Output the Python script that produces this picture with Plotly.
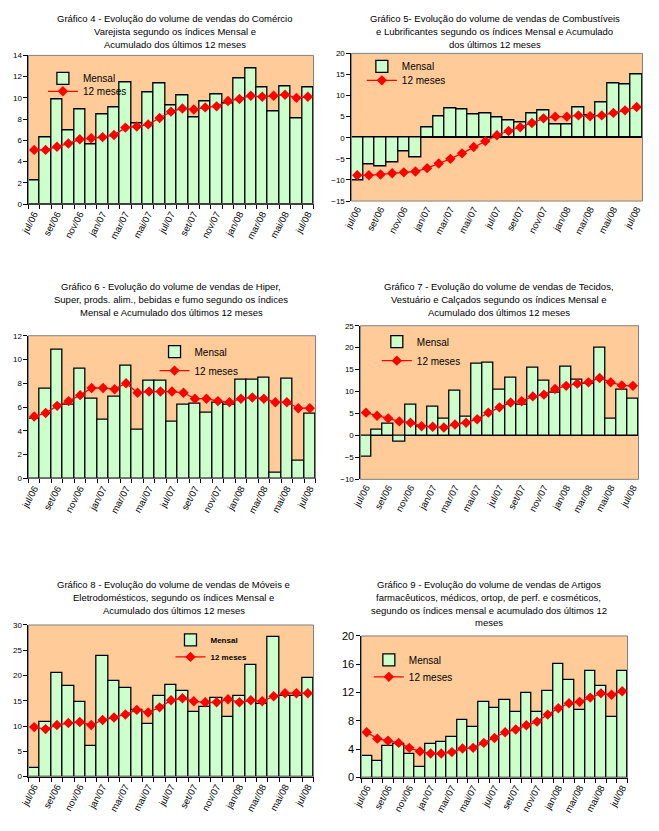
import plotly.graph_objects as go

FW, FH = 659, 831
# the photographed page maps figure pixel f to about 13.5 + 0.988 * f,
# so target page positions are converted back to figure pixels
PAGE_OFF, PAGE_SCALE = 13.5, 0.988

meses = ["jul/06", "ago/06", "set/06", "out/06", "nov/06", "dez/06",
         "jan/07", "fev/07", "mar/07", "abr/07", "mai/07", "jun/07",
         "jul/07", "ago/07", "set/07", "out/07", "nov/07", "dez/07",
         "jan/08", "fev/08", "mar/08", "abr/08", "mai/08", "jun/08", "jul/08"]
rotulos = [m if i % 2 == 0 else "" for i, m in enumerate(meses)]

# Gráfico 4 - Comércio Varejista
mensal_4 = [2.2, 6.3, 9.9, 6.9, 8.9, 5.6, 8.4, 9.1, 11.5, 7.6, 10.5, 11.4, 9.3,
            10.2, 8.2, 9.7, 10.3, 9.5, 11.8, 12.8, 11.0, 8.7, 11.1, 8.1, 11.0]
acum_4 = [5.1, 5.1, 5.4, 5.7, 6.1, 6.2, 6.3, 6.5, 7.2, 7.3, 7.5, 8.1, 8.7,
          9.0, 8.9, 9.1, 9.2, 9.7, 9.9, 10.2, 10.1, 10.2, 10.3, 10.0, 10.1]

# Gráfico 5 - Combustíveis e Lubrificantes
mensal_5 = [-10.0, -6.2, -6.7, -5.8, -3.2, -4.6, 2.5, 5.1, 7.0, 6.8, 5.6, 5.8, 4.9,
            4.2, 3.7, 5.8, 6.5, 3.2, 3.2, 7.2, 5.4, 8.4, 12.9, 12.7, 15.0]
acum_5 = [-8.9, -8.9, -8.7, -8.4, -8.2, -8.0, -7.2, -6.1, -5.0, -3.7, -2.2, -0.8, 0.6,
          1.6, 2.5, 3.5, 4.6, 5.0, 5.0, 5.3, 5.1, 5.3, 5.9, 6.5, 7.3]

# Gráfico 6 - Hiper, Super, prods. alim., bebidas e fumo
mensal_6 = [5.0, 7.5, 10.8, 6.2, 9.2, 6.7, 4.9, 6.9, 9.5, 4.1, 8.2, 8.2, 4.8,
            6.2, 6.3, 5.5, 6.4, 6.2, 8.3, 8.3, 8.5, 0.5, 8.4, 1.5, 5.4]
acum_6 = [5.2, 5.5, 6.1, 6.5, 7.0, 7.6, 7.6, 7.5, 8.0, 7.2, 7.3, 7.3, 7.3,
          7.2, 6.7, 6.7, 6.5, 6.4, 6.7, 6.8, 6.7, 6.4, 6.4, 5.9, 5.9]

# Gráfico 7 - Tecidos, Vestuário e Calçados
mensal_7 = [-4.9, 1.4, 2.7, -1.4, 7.0, 2.0, 6.6, 3.7, 10.2, 4.3, 16.3, 16.5, 10.4,
            13.1, 7.0, 15.4, 12.4, 9.7, 15.6, 12.7, 11.9, 19.9, 3.9, 10.4, 8.3]
acum_7 = [5.2, 4.5, 3.9, 3.2, 2.9, 2.1, 2.0, 1.8, 2.5, 2.9, 3.7, 5.2, 6.4,
          7.5, 7.8, 8.9, 9.3, 10.6, 11.3, 11.8, 12.1, 13.1, 12.1, 11.4, 11.3]

# Gráfico 8 - Móveis e Eletrodomésticos
mensal_8 = [1.7, 10.8, 20.6, 18.0, 14.7, 6.0, 23.9, 19.0, 17.6, 13.1, 10.4, 16.0, 18.2,
            17.0, 12.7, 13.7, 15.5, 11.7, 15.9, 22.1, 14.3, 27.6, 16.0, 16.0, 19.6]
acum_8 = [9.8, 9.4, 10.2, 10.6, 10.8, 10.2, 11.2, 11.7, 12.3, 13.2, 12.7, 13.7, 15.1,
          15.5, 14.9, 14.7, 14.7, 15.3, 14.7, 15.1, 14.9, 15.9, 16.5, 16.5, 16.5]

# Gráfico 9 - Artigos farmacêuticos, médicos, ortop., de perf. e cosméticos
mensal_9 = [3.1, 2.4, 4.5, 4.7, 3.4, 1.5, 4.8, 5.1, 5.7, 8.1, 7.1, 10.7, 9.8,
            11.0, 9.3, 12.0, 9.3, 12.2, 16.1, 13.8, 9.6, 15.1, 13.0, 8.6, 15.0]
acum_9 = [6.4, 5.5, 5.2, 4.9, 4.2, 3.7, 3.4, 3.4, 3.6, 4.1, 4.2, 4.9, 5.6,
          6.4, 6.8, 7.4, 7.9, 8.9, 9.8, 10.5, 10.7, 11.3, 11.9, 11.7, 12.2]

titulos = [
    ["Gráfico 4 - Evolução do volume de vendas do Comércio",
     "Varejista segundo os índices Mensal e",
     "Acumulado dos últimos 12 meses"],
    ["Gráfico 5- Evolução do volume de vendas de Combustíveis",
     "e Lubrificantes segundo os índices Mensal e Acumulado",
     "dos últimos 12 meses"],
    ["Gráfico 6 - Evolução do volume de vendas de Hiper,",
     "Super, prods. alim., bebidas e fumo segundo os índices",
     "Mensal e Acumulado dos últimos 12 meses"],
    ["Gráfico 7 - Evolução do volume de vendas de Tecidos,",
     "Vestuário e Calçados segundo os índices Mensal e",
     "Acumulado dos últimos 12 meses"],
    ["Gráfico 8 - Evolução do volume de vendas de Móveis e",
     "Eletrodomésticos, segundo os índices Mensal e",
     "Acumulado dos últimos 12 meses"],
    ["Gráfico 9 - Evolução do volume de vendas de Artigos",
     "farmacêuticos, médicos, ortop, de perf. e cosméticos,",
     "segundo os índices mensal e acumulado dos últimos 12",
     "meses"],
]

# geometry in page pixels: plot box (x0, x1, y0, y1), title centre x and first-line y,
# legend text x and the two legend row centres
paineis = [
    dict(m=mensal_4, a=acum_4, rng=[0, 14], dt=2, box=(25, 311, 55, 204), tc=(172, 18), lg=(79, 78, 91), yf=8, lf=10),
    dict(m=mensal_5, a=acum_5, rng=[-15, 20], dt=5, box=(349, 641, 53, 201), tc=(493, 18), lg=(399, 66, 80), yf=8, lf=10),
    dict(m=mensal_6, a=acum_6, rng=[0, 12], dt=2, box=(25, 313, 336, 479), tc=(168, 287), lg=(191, 352, 371), yf=8, lf=10),
    dict(m=mensal_7, a=acum_7, rng=[-10, 25], dt=5, box=(358, 637, 326, 480), tc=(497, 287), lg=(414, 342, 361), yf=8, lf=10),
    dict(m=mensal_8, a=acum_8, rng=[0, 30], dt=5, box=(25, 311, 626, 778), tc=(171, 585), lg=(207, 641, 658), yf=8, lf=8),
    dict(m=mensal_9, a=acum_9, rng=[0, 20], dt=4, box=(359, 626, 637, 779), tc=(487, 585), lg=(406, 661, 678), yf=11, lf=10),
]


def fpx(p):
    return (p - PAGE_OFF) / PAGE_SCALE


def fx(px):
    return fpx(px) / FW


def fy(py):
    return 1 - fpx(py) / FH


FONT = "Liberation Sans, Arial, sans-serif"
TEXT_OFFSET = 40  # figure pixels from legend left edge to its text
n_cat = len(meses)

fig = go.Figure()
annotations = []
shapes = []
layout_upd = {}
for i, p in enumerate(paineis):
    n = i + 1
    xa = "x" if n == 1 else f"x{n}"
    ya = "y" if n == 1 else f"y{n}"
    lg_bar = f"legend{2 * n - 1}" if n > 1 else "legend"
    lg_lin = f"legend{2 * n}"
    x0, x1, y0, y1 = p["box"]
    fig.add_trace(go.Bar(
        x=meses, y=p["m"], name="Mensal", xaxis=xa, yaxis=ya, legend=lg_bar,
        marker=dict(color="#CCFFCC", line=dict(color="black", width=1.3)),
    ))
    fig.add_trace(go.Scatter(
        x=meses, y=p["a"], name="12 meses", mode="lines+markers", xaxis=xa, yaxis=ya,
        legend=lg_lin,
        line=dict(color="#FF0000", width=1.3),
        marker=dict(symbol="diamond", size=8, color="#FF0000"),
    ))
    neg = p["rng"][0] < 0
    axkey_x = "xaxis" if n == 1 else f"xaxis{n}"
    axkey_y = "yaxis" if n == 1 else f"yaxis{n}"
    ydom = [fy(y1), fy(y0)]
    layout_upd[axkey_x] = dict(
        domain=[fx(x0), fx(x1)], anchor=ya, type="category",
        tickmode="array", tickvals=meses, ticktext=rotulos, tickangle=-62,
        tickson="boundaries", ticks="" if neg else "outside", ticklen=4, tickcolor="black",
        showline=not neg, linecolor="black", linewidth=1, showgrid=False,
        tickfont=dict(family=FONT, size=9.5, color="black"),
        range=[-0.5, n_cat - 0.5], fixedrange=True,
    )
    layout_upd[axkey_y] = dict(
        domain=ydom, anchor=xa, range=p["rng"], dtick=p["dt"],
        tick0=0, ticks="outside", ticklen=4, tickcolor="black",
        showline=True, linecolor="black", linewidth=1, showgrid=False,
        zeroline=neg, zerolinecolor="black", zerolinewidth=1.2,
        tickfont=dict(family=FONT, size=p["yf"], color="black"),
        fixedrange=True,
    )
    if neg:
        # category axis crossing at zero: boundary ticks drawn on the zero line
        lo, hi = p["rng"]
        zpos = ydom[0] + (0 - lo) / (hi - lo) * (ydom[1] - ydom[0])
        extra = 12 + n
        layout_upd[f"xaxis{extra}"] = dict(
            overlaying=xa, anchor="free", position=zpos, type="linear",
            range=[-0.5, n_cat - 0.5], tickmode="array",
            tickvals=[k - 0.5 for k in range(n_cat + 1)],
            ticks="outside", ticklen=4, tickcolor="black", showticklabels=False,
            showline=False, showgrid=False, zeroline=False, fixedrange=True,
        )
    tx, r1, r2 = p["lg"]
    lfont = dict(family=FONT, size=p["lf"], color="black",
                 weight="bold" if p["lf"] < 10 else "normal")
    for name, row in ((lg_bar, r1), (lg_lin, r2)):
        layout_upd[name] = dict(
            x=(fpx(tx) - TEXT_OFFSET) / FW, y=fy(row), xanchor="left", yanchor="middle",
            bgcolor="rgba(0,0,0,0)", borderwidth=0, font=lfont, itemwidth=30,
        )
    shapes.append(dict(type="rect", xref=f"{xa} domain", yref=f"{ya} domain",
                       x0=0, x1=1, y0=0, y1=1, line=dict(color="#808080", width=1),
                       fillcolor="rgba(0,0,0,0)", layer="above"))
    cx, ly = p["tc"]
    for k, linha in enumerate(titulos[i]):
        annotations.append(dict(
            text=linha, x=fx(cx), y=fy(ly + 13 * k), xref="paper", yref="paper",
            xanchor="center", yanchor="middle", showarrow=False,
            font=dict(family=FONT, size=9.5, color="black"),
        ))

fig.update_layout(**layout_upd)
fig.update_layout(
    width=FW, height=FH, margin=dict(l=0, r=0, t=0, b=0),
    paper_bgcolor="white", plot_bgcolor="#FFCC99",
    bargap=0, barmode="overlay", showlegend=True,
    annotations=annotations, shapes=shapes,
    font=dict(family=FONT, color="black"),
)

fig.write_html("out.html")
